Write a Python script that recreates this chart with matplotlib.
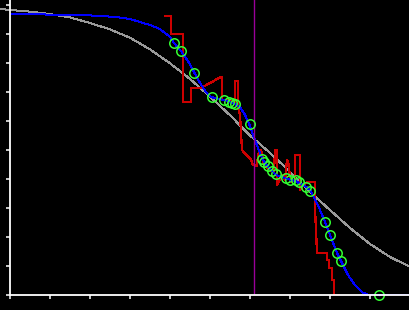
import matplotlib
matplotlib.use("Agg")
import matplotlib.pyplot as plt

# wide reference curve (grey)
grey_x = [-0.25, 0, 0.5, 1.0, 1.5, 2.0, 2.5, 3.0, 3.5, 4.0, 4.5, 5.0, 5.5,
          6.0, 6.5, 7.0, 7.5, 8.0, 8.5, 9.0, 9.5, 10.0]
grey_y = [9.86, 9.83, 9.77, 9.69, 9.57, 9.38, 9.16, 8.87, 8.47, 7.99, 7.45,
          6.84, 6.2, 5.5, 4.9, 4.25, 3.55, 2.93, 2.31, 1.76, 1.31, 0.97]

# smooth fit (blue)
fit_x = [0, 1.0, 1.75, 2.25, 2.625, 3.0, 3.25, 3.5, 3.75, 4.0, 4.1, 4.275,
         4.45, 4.6, 4.75, 4.9, 5.025, 5.2, 5.375, 5.5, 5.625, 5.75, 5.875,
         5.975, 6.125, 6.3, 6.45, 6.65, 6.875, 7.125, 7.375, 7.5, 7.7, 7.875,
         8.0, 8.175, 8.275, 8.45, 8.625, 8.8, 8.95, 10.0]
fit_y = [9.69, 9.67, 9.66, 9.62, 9.59, 9.52, 9.41, 9.31, 9.17, 8.90, 8.69,
         8.41, 8.07, 7.69, 7.31, 7.0, 6.83, 6.76, 6.72, 6.66, 6.59, 6.48,
         6.21, 5.90, 5.34, 4.72, 4.41, 4.14, 4.03, 3.93, 3.76, 3.62, 3.10,
         2.52, 2.07, 1.45, 1.17, 0.69, 0.34, 0.10, 0.0, 0.0]

# raw trace (red)
raw_x = [3.875, 4.025, 4.025, 4.325, 4.325, 4.525, 4.525, 4.775, 5.275, 5.3,
         5.3, 5.475, 5.625, 5.625, 5.7, 5.7, 5.75, 5.8, 6.025, 6.075, 6.175,
         6.2, 6.275, 6.35, 6.5, 6.6, 6.625, 6.675, 6.675, 6.8, 6.875, 6.925,
         6.975, 7.0, 7.125, 7.125, 7.25, 7.25, 7.375, 7.475, 7.625, 7.625,
         7.675, 7.925, 7.925, 7.975, 7.975, 8.05, 8.05, 8.1, 8.1, 8.225]
raw_y = [9.62, 9.62, 9.0, 9.0, 6.66, 6.66, 7.14, 7.14, 7.52, 7.52,
         6.72, 6.72, 6.62, 7.38, 7.38, 6.48, 6.21, 5.0, 4.66, 4.48, 4.45,
         4.83, 5.0, 4.48, 4.31, 4.24, 5.0, 5.0, 3.79, 4.14, 3.97, 4.66,
         4.48, 3.90, 3.97, 4.83, 4.83, 3.62, 3.86, 3.90, 3.90, 3.0,
         1.45, 1.45, 1.21, 1.21, 0.93, 0.93, 0.52, 0.52, 0.0, 0.0]

# observations (green circles)
obs_x = [4.1, 4.275, 4.6, 5.04, 5.36, 5.475, 5.56, 5.625, 5.99, 6.31, 6.36,
         6.44, 6.54, 6.66, 6.91, 7.0, 7.14, 7.225, 7.41, 7.5, 7.88, 8.01,
         8.18, 8.28, 9.225]
obs_y = [8.69, 8.41, 7.66, 6.83, 6.72, 6.67, 6.63, 6.59, 5.88, 4.69, 4.59,
         4.45, 4.29, 4.16, 4.02, 3.97, 3.97, 3.90, 3.74, 3.60, 2.51, 2.06,
         1.45, 1.16, 0.0]

cut_x = 6.1

fig = plt.figure(figsize=(4.1, 3.1), dpi=100, facecolor="black")
ax = fig.add_axes([10 / 410, 15 / 310, 400 / 410, 295 / 310])
ax.set_facecolor("black")

ax.plot(grey_x, grey_y, color="#9a9a9a", lw=0.72, clip_on=False, antialiased=False)
ax.plot(raw_x, raw_y, color="#cc0000", lw=0.9, antialiased=False)
ax.plot(fit_x, fit_y, color="#0000ff", lw=0.72, antialiased=False)
ax.axvline(cut_x, color="#990099", lw=1.0)
ax.plot(obs_x, obs_y, "o", ms=6.8, mfc="none", mec="#33ff33", mew=1.1,
        clip_on=False)
ax.plot(obs_x, obs_y, "s", ms=1.0, color="#0000ff", mew=0, clip_on=False)

ax.set_xlim(0, 10)
ax.set_ylim(0, 295 / 29)
ax.set_xticks(range(0, 11))
ax.set_yticks(range(0, 11))
ax.set_xticklabels([])
ax.set_yticklabels([])
ax.tick_params(colors="white", length=3, width=1.1)
for side in ["top", "right"]:
    ax.spines[side].set_visible(False)
for side in ["left", "bottom"]:
    ax.spines[side].set_color("white")
    ax.spines[side].set_linewidth(1.3)

fig.savefig("out.png", dpi=100, facecolor="black")
plt.close()
